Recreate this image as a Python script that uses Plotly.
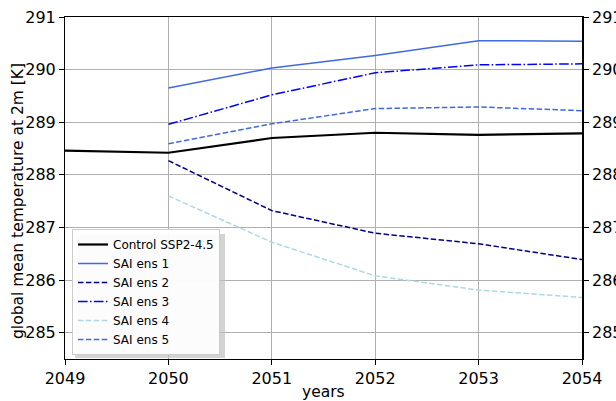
import plotly.graph_objects as go

years = [2049, 2050, 2051, 2052, 2053, 2054]
sai_years = [2050, 2051, 2052, 2053, 2054]

control = [288.46, 288.42, 288.70, 288.80, 288.76, 288.79]
ens1 = [289.65, 290.03, 290.27, 290.55, 290.54]
ens2 = [288.27, 287.32, 286.89, 286.69, 286.39]
ens3 = [288.96, 289.52, 289.94, 290.09, 290.11]
ens4 = [287.60, 286.72, 286.08, 285.81, 285.67]
ens5 = [288.59, 288.97, 289.26, 289.29, 289.22]

y_ticks = [285, 286, 287, 288, 289, 290, 291]
x_ticks = [2049, 2050, 2051, 2052, 2053, 2054]

FONT = "DejaVu Sans"

fig = go.Figure()
fig.add_trace(go.Scatter(x=years, y=control, mode="lines", name="Control SSP2-4.5",
                         line=dict(color="black", width=2.2)))
fig.add_trace(go.Scatter(x=sai_years, y=ens1, mode="lines", name="SAI ens 1",
                         line=dict(color="royalblue", width=1.5)))
fig.add_trace(go.Scatter(x=sai_years, y=ens2, mode="lines", name="SAI ens 2",
                         line=dict(color="darkblue", width=1.5, dash="5.5px,2.4px")))
fig.add_trace(go.Scatter(x=sai_years, y=ens3, mode="lines", name="SAI ens 3",
                         line=dict(color="blue", width=1.5, dash="9.6px,2.4px,1.5px,2.4px")))
fig.add_trace(go.Scatter(x=sai_years, y=ens4, mode="lines", name="SAI ens 4",
                         line=dict(color="lightblue", width=1.5, dash="5.5px,2.4px")))
fig.add_trace(go.Scatter(x=sai_years, y=ens5, mode="lines", name="SAI ens 5",
                         line=dict(color="royalblue", width=1.5, dash="5.5px,2.4px")))
# invisible trace to activate right axis
fig.add_trace(go.Scatter(x=[years[0]], y=[control[0]], yaxis="y2", mode="lines",
                         showlegend=False, hoverinfo="skip", line=dict(width=0)))

W, H = 616, 401
L, R, T, B = 65, 582, 17, 359
pw, ph = R - L, B - T

def px_x(p):
    return (p - L) / pw

def px_y(p):
    return (B - p) / ph

tick_common = dict(ticks="outside", ticklen=5, tickcolor="black",
                   tickfont=dict(family=FONT, size=16, color="black"))

fig.update_layout(
    width=W, height=H,
    margin=dict(l=L, r=W - R, t=T, b=H - B, autoexpand=False),
    paper_bgcolor="white", plot_bgcolor="white",
    font=dict(family=FONT, color="black"),
    xaxis=dict(range=[2049, 2054], tickvals=x_ticks, showgrid=True, gridcolor="#b0b0b0",
               gridwidth=1, zeroline=False, showline=True, linecolor="black",
               linewidth=1, mirror=True, **tick_common),
    yaxis=dict(range=[284.5, 291], tickvals=y_ticks, showgrid=True, gridcolor="#b0b0b0",
               gridwidth=1, zeroline=False, showline=True, linecolor="black",
               linewidth=1, mirror=False, **tick_common),
    yaxis2=dict(range=[284.5, 291], tickvals=y_ticks, overlaying="y", side="right",
                showgrid=False, zeroline=False, automargin=False, showline=True,
                linecolor="black", linewidth=1.6, **tick_common),
    legend=dict(x=px_x(72), y=px_y(355), xanchor="left", yanchor="bottom",
                bgcolor="rgba(255,255,255,0.92)", bordercolor="#cccccc", borderwidth=1,
                font=dict(family=FONT, size=12), tracegroupgap=0, itemwidth=30),
    showlegend=True,
)

# axis titles
fig.add_annotation(text="years", xref="paper", yref="paper",
                   x=px_x((L + R) / 2), y=px_y(392), xanchor="center", yanchor="middle",
                   showarrow=False, font=dict(family=FONT, size=15.5, color="black"))
fig.add_annotation(text="global mean temperature at 2m [K]", xref="paper", yref="paper",
                   x=px_x(18), y=px_y(201), xanchor="center", yanchor="middle",
                   textangle=-90, showarrow=False,
                   font=dict(family=FONT, size=15.5, color="black"))

# legend shadow
fig.add_shape(type="rect", xref="paper", yref="paper",
              x0=px_x(75), x1=px_x(225), y0=px_y(358), y1=px_y(234),
              fillcolor="#c0c0c0", line=dict(width=0), layer="above", opacity=0.7)

fig.write_html("out.html",
               config={"displayModeBar": False},
               post_script="document.body.style.margin='0';"
                           "document.body.style.overflow='hidden';")
